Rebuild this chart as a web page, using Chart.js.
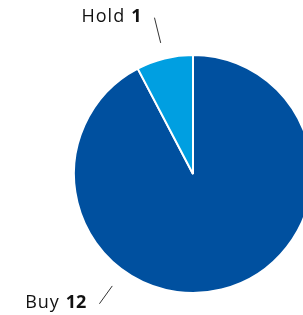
<!DOCTYPE html>
<html>
<head>
<meta charset="utf-8">
<script src="https://cdn.jsdelivr.net/npm/chart.js@4.4.0/dist/chart.umd.min.js"></script>
<style>
  html, body { margin: 0; padding: 0; background: #fff; overflow: hidden; }
  #wrap { width: 303px; height: 315px; overflow: hidden; position: relative; }
  canvas { display: block; }
</style>
</head>
<body>
<div id="wrap"><canvas id="ratingChart" width="386" height="315"></canvas></div>
<script>
// ratings data
var labels = ['Buy', 'Hold'];
var counts = [12, 1];
var colors = ['#00509f', '#009fe1'];
// label direction (deg, canvas angle); null = middle of slice
var labelAngles = [125.8, null];

// draws "Buy 12" style labels with a small leader line
var outsideLabels = {
    id: 'outsideLabels',
    afterDatasetsDraw: function(chart) {
        var ctx = chart.ctx;
        var meta = chart.getDatasetMeta(0);
        meta.data.forEach(function(arc, i) {
            var ang = labelAngles[i] != null ? labelAngles[i] * Math.PI / 180
                : (arc.startAngle + arc.endAngle) / 2;
            var r = arc.outerRadius;
            var cos = Math.cos(ang), sin = Math.sin(ang);
            var inner = (i === 0) ? r + 19 : r + 16;
            var outer = (i === 0) ? r + 41 : r + 42;
            var x1 = arc.x + cos * inner, y1 = arc.y + sin * inner;
            var x2 = arc.x + cos * outer, y2 = arc.y + sin * outer;

            ctx.save();
            ctx.strokeStyle = '#333';
            ctx.lineWidth = 1;
            ctx.beginPath();
            ctx.moveTo(x1, y1);
            ctx.lineTo(x2, y2);
            ctx.stroke();

            var name = labels[i];
            var num = String(counts[i]);
            ctx.textBaseline = 'middle';
            ctx.fillStyle = '#111';
            ctx.font = 'bold 18px "Open Sans"';
            var numW = ctx.measureText(num).width;
            ctx.font = '18px "Open Sans"';
            ctx.letterSpacing = '1px';
            var nameW = ctx.measureText(name).width;
            var right = x2 - 13;
            var ty = y2 - 1;
            ctx.textAlign = 'left';
            ctx.fillText(name, right - numW - 6 - nameW, ty);
            ctx.letterSpacing = '0px';
            ctx.font = 'bold 18px "Open Sans"';
            ctx.fillText(num, right - numW, ty);
            ctx.restore();
        });
    }
};

var ctx = document.getElementById('ratingChart').getContext('2d');
var ratingChart = new Chart(ctx, {
    type: 'pie',
    data: {
        labels: labels,
        datasets: [{
            data: counts,
            backgroundColor: colors,
            borderColor: '#ffffff',
            borderWidth: 2
        }]
    },
    options: {
        responsive: false,
        animation: false,
        layout: {
            padding: { top: 54, bottom: 21, left: 73, right: 73 }
        },
        plugins: {
            legend: { display: false },
            tooltip: { enabled: false }
        }
    },
    plugins: [outsideLabels]
});
</script>
</body>
</html>
